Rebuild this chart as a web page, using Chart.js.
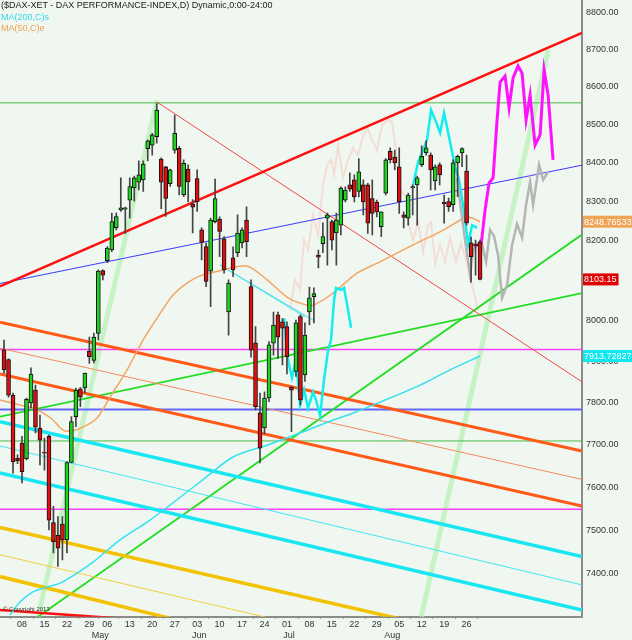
<!DOCTYPE html>
<html lang="de">
<head>
<meta charset="utf-8">
<title>DAX Performance-Index</title>
<style>
  * { margin: 0; padding: 0; box-sizing: border-box; }
  body {
    width: 632px;
    height: 640px;
    overflow: hidden;
    background: #f0f7f0;
    font-family: "Liberation Sans", Arial, sans-serif;
  }
  .wrap { position: relative; width: 632px; height: 640px; }
  #chart { position: absolute; left: 0; top: 0; }
  .head {
    position: absolute;
    left: 1px;
    font-size: 9px;
    line-height: 11.5px;
    white-space: nowrap;
  }
  .l1 { top: 0; color: #1a1a1a; }
  .l2 { top: 11.5px; color: #2fd8ec; }
  .l3 { top: 23px; color: #f0a050; }
  .copy { position: absolute; left: 3px; top: 606px; font-size: 6px; color: #333; }
</style>
</head>
<body>
<div class="wrap">
  <canvas id="chart" width="632" height="640"></canvas>
  <div class="head l1">($DAX-XET - DAX PERFORMANCE-INDEX,D) Dynamic,0:00-24:00</div>
  <div class="head l2">MA(200,C)s</div>
  <div class="head l3">MA(50,C)e</div>
  <div class="copy">© Copyright 2013</div>
</div>
<script src="https://cdn.jsdelivr.net/npm/chart.js@4.4.1/dist/chart.umd.min.js"></script>
<script>
// x axis = trading day slot, 0 = Apr 08 2013
const weekSlots = [0, 5, 10, 15, 19, 24, 29, 34, 39, 44, 49, 54, 59, 64, 69, 74, 79, 84, 89, 94, 99];
const weekLabels = ["08", "15", "22", "29", "06", "13", "20", "27", "03", "10", "17", "24", "01", "08", "15", "22", "29", "05", "12", "19", "26"];
const monthSlots = [17, 39, 59, 82];
const monthLabels = ["May", "Jun", "Jul", "Aug"];
const priceTicks = [7400, 7500, 7600, 7700, 7800, 7900, 8000, 8100, 8200, 8300, 8400, 8500, 8600, 8700, 8800];

// daily candles, first one at slot -4
const firstSlot = -4;
const opens = [7929, 7905, 7819, 7668, 7704, 7667, 7800, 7831, 7740, 7682,
  7720, 7517, 7488, 7514, 7477, 7658, 7767, 7834, 7836, 7926,
  7903, 7969, 8125, 8150, 8177, 8233, 8279, 8281, 8304, 8335,
  8350, 8356, 8437, 8446, 8468, 8410, 8390, 8346, 8433, 8438,
  8317, 8384, 8294, 8359, 8228, 8186, 8124, 8249, 8255, 8205,
  8022, 8157, 8170, 8195, 8253, 8085, 7946, 7776, 7740, 7812,
  7945, 8015, 7998, 7986, 7838, 7876, 8011, 7868, 8022, 8060,
  8164, 8193, 8258, 8249, 8220, 8240, 8304, 8343, 8356, 8326,
  8343, 8343, 8308, 8299, 8236, 8322, 8430, 8415, 8390, 8266,
  8258, 8335, 8343, 8395, 8426, 8420, 8353, 8395, 8299, 8300,
  8292, 8400, 8426, 8379, 8195, 8192, 8197];
const highs = [7953, 7907, 7824, 7676, 7720, 7812, 7885, 7843, 7771, 7716,
  7723, 7555, 7531, 7531, 7660, 7767, 7836, 7837, 7872, 7960,
  7970, 8127, 8127, 8186, 8271, 8271, 8361, 8286, 8361, 8366,
  8405, 8405, 8460, 8477, 8555, 8413, 8391, 8384, 8525, 8443,
  8408, 8395, 8305, 8382, 8233, 8195, 8258, 8358, 8261, 8211,
  8102, 8185, 8266, 8233, 8287, 8102, 7986, 7824, 7827, 7949,
  8022, 8022, 8006, 7998, 7840, 8002, 8015, 7995, 8084, 8082,
  8177, 8246, 8271, 8253, 8271, 8338, 8338, 8374, 8369, 8411,
  8356, 8347, 8356, 8304, 8274, 8411, 8439, 8433, 8439, 8274,
  8322, 8343, 8366, 8444, 8457, 8426, 8395, 8400, 8317, 8309,
  8408, 8420, 8439, 8420, 8210, 8202, 8202];
const lows = [7872, 7814, 7633, 7655, 7610, 7664, 7788, 7728, 7652, 7640,
  7500, 7447, 7416, 7431, 7447, 7657, 7743, 7791, 7824, 7896,
  7897, 7953, 8102, 8145, 8173, 8228, 8275, 8219, 8258, 8301,
  8330, 8326, 8405, 8420, 8451, 8282, 8262, 8339, 8425, 8317,
  8313, 8299, 8220, 8275, 8152, 8085, 8035, 8246, 8160, 8119,
  7965, 8110, 8160, 8182, 8160, 7911, 7783, 7657, 7726, 7803,
  7916, 7908, 7892, 7870, 7731, 7864, 7795, 7852, 7990, 7995,
  8132, 8170, 8139, 8177, 8139, 8215, 8299, 8326, 8299, 8312,
  8266, 8219, 8215, 8261, 8211, 8317, 8400, 8382, 8270, 8233,
  8240, 8266, 8240, 8390, 8420, 8330, 8330, 8343, 8245, 8275,
  8275, 8313, 8390, 8240, 8096, 8114, 8102];
const closes = [7880, 7819, 7660, 7662, 7636, 7809, 7870, 7742, 7711, 7680,
  7523, 7473, 7458, 7477, 7658, 7755, 7831, 7814, 7872, 7912,
  7960, 8124, 8114, 8182, 8249, 8262, 8284, 8284, 8339, 8361,
  8369, 8397, 8457, 8473, 8538, 8350, 8308, 8382, 8477, 8339,
  8399, 8351, 8286, 8300, 8196, 8098, 8253, 8308, 8224, 8127,
  8094, 8127, 8220, 8228, 8198, 7928, 7791, 7692, 7812, 7941,
  7990, 7960, 7982, 7912, 7831, 7995, 7807, 7965, 8057, 8068,
  8159, 8211, 8266, 8202, 8253, 8335, 8330, 8332, 8312, 8377,
  8299, 8245, 8270, 8274, 8274, 8408, 8408, 8400, 8299, 8260,
  8317, 8339, 8361, 8417, 8439, 8382, 8390, 8369, 8295, 8287,
  8400, 8417, 8437, 8246, 8160, 8187, 8103.15];

// moving averages
const ma200X = [-2.67, -0.45, 2.45, 5.57, 8.46, 12.25, 15.81, 21.83, 28.5, 39.64, 47, 54.57, 61.9, 69.27, 73.05, 79.73, 88.64, 95.32, 102];
const ma200Y = [7306, 7335, 7358, 7369, 7378, 7401, 7426, 7477, 7523, 7612, 7671, 7699, 7728, 7759, 7773, 7802, 7843, 7880, 7913.72827];
const ma50X = [-4.9, -0.45, 2.45, 4.68, 6.9, 9.13, 11.14, 13.59, 16.7, 19.6, 23.39, 26.95, 30.07, 33.63, 36.75, 39.64, 44.77, 50.11, 54.57, 59.02, 61.92, 64.81, 69.27, 74.61, 79.73, 87.08, 93.1, 96.88, 98.66, 100.22, 102];
const ma50Y = [7807, 7795, 7788, 7776, 7759, 7735, 7733, 7742, 7764, 7814, 7880, 7953, 8007, 8064, 8094, 8112, 8127, 8137, 8102, 8059, 8044, 8039, 8069, 8119, 8147, 8190, 8223, 8248, 8261, 8258, 8248.76533];

// pattern projections
const pinkX = [59.69, 60.8, 61.92, 62.81, 63.7, 64.81, 65.92, 67.04, 67.93, 68.82, 69.49, 70.38, 71.49, 72.61, 73.72, 74.83, 75.72, 76.84, 77.95, 79.06, 80.18, 81.51, 82.41, 83.52, 84.19, 85.3, 86.19, 87.08, 88.2, 89.31, 90.42, 91.09, 91.98, 93.1, 94.21, 95.32, 96.66, 97.77, 98.89, 100, 100.89, 101.56];
const pinkY = [8027, 8102, 8077, 8202, 8177, 8266, 8215, 8343, 8395, 8408, 8369, 8446, 8361, 8408, 8439, 8420, 8460, 8494, 8460, 8433, 8499, 8512, 8507, 8415, 8330, 8317, 8240, 8202, 8248, 8172, 8240, 8248, 8144, 8190, 8147, 8208, 8147, 8195, 8152, 8097, 8059, 8027];
const cyanLoX = [58.35, 59.24, 60.13, 61.02, 61.92, 62.81, 63.7, 64.81, 65.48, 66.37, 67.26, 68.15, 68.82, 69.49, 69.93, 71.05, 71.71, 72.61, 73.27];
const cyanLoY = [8007, 7904, 7861, 7904, 7795, 7831, 7788, 7826, 7807, 7769, 7856, 7928, 7953, 8052, 8082, 8077, 8082, 8027, 7983];
const cyanHiX = [87.08, 88.2, 89.31, 90.2, 91.09, 92.2, 93.1, 93.99, 95.1, 96.44, 97.33, 98.44, 99.33, 100.22, 101.34];
const cyanHiY = [8343, 8402, 8433, 8460, 8538, 8507, 8478, 8530, 8467, 8389, 8356, 8274, 8190, 8240, 8233];
const magentaX = [102.23, 103.12, 104.01, 104.9, 105.79, 106.46, 107.57, 108.46, 109.35, 110.47, 111.36, 112.25, 113.14, 114.25, 115.37, 116.26, 117.15, 118.26];
const magentaY = [8190, 8279, 8348, 8361, 8512, 8612, 8628, 8544, 8623, 8655, 8636, 8512, 8578, 8446, 8473, 8644, 8578, 8408];
const grayX = [96.88, 97.77, 98.66, 99.78, 100.45, 101.34, 102.23, 103.34, 104.23, 105.12, 106.01, 106.9, 108.02, 109.13, 110.24, 111.36, 112.25, 113.14, 113.81, 114.48, 115.14, 116.04, 117.15];
const grayY = [8361, 8279, 8202, 8114, 8177, 8190, 8202, 8147, 8228, 8212, 8164, 8057, 8089, 8190, 8243, 8208, 8292, 8351, 8292, 8343, 8395, 8356, 8377];

// drawn trend lines, [slot, price] end points
const xMin = -4.9, xMax = 124.7;
const redTop = [[xMin, 8086], [xMax, 8744]];
const redDown = [[30.07, 8559], [xMax, 7851]];
const redLow = [[xMin, 7317], [40, 7285]];
const blueUp = [[xMin, 8093], [xMax, 8394]];
const orangeA = [[xMin, 7997], [xMax, 7685]];
const orangeThin = [[xMin, 7933], [xMax, 7618]];
const orangeB = [[xMin, 7870], [xMax, 7556]];
const cyanA = [[xMin, 7755], [xMax, 7439]];
const cyanThin = [[xMin, 7697], [xMax, 7374]];
const cyanB = [[xMin, 7633], [xMax, 7317]];
const goldA = [[xMin, 7506], [xMax, 7204]];
const goldThin = [[xMin, 7443], [xMax, 7135]];
const goldB = [[xMin, 7393], [xMax, 7074]];
const greenShallow = [[xMin, 7767], [xMax, 8069]];
const greenSteep = [[xMin, 7242], [xMax, 8216]];
const paleA = [[3.56, 7302], [30.07, 8564]];
const paleB = [[88.9, 7302], [117.2, 8698]];
const fanA = [[44.1, 8139], [64.8, 8002]];
const fanB = [[44.1, 8139], [63.0, 8010]];
const athLevel = 8557;
const magentaLevels = [7930, 7548];
const blueLevel = 7784;
const greenLevel = 7709;

const xy = (xs, ys) => xs.map((x, i) => ({ x: x, y: ys[i] }));
const seg = (p) => p.map(([x, y]) => ({ x: x, y: y }));
const flat = (v) => [{ x: xMin, y: v }, { x: xMax, y: v }];

function line(data, color, width, order, tension) {
  return {
    type: "line",
    data: data,
    borderColor: color,
    borderWidth: width,
    pointRadius: 0,
    tension: tension || 0,
    order: order,
    clip: 0
  };
}

const slots = opens.map((_, i) => firstSlot + i);
const candleColors = opens.map((o, i) => (closes[i] >= o ? "#1ed41e" : "#e01010"));

const datasets = [
  {
    type: "bar",
    data: slots.map((x, i) => ({ x: x, y: [opens[i], closes[i]] })),
    backgroundColor: candleColors,
    borderColor: "#111",
    borderWidth: 1,
    borderSkipped: false,
    barThickness: 4,
    minBarLength: 1,
    grouped: false,
    order: 0
  },
  {
    type: "bar",
    data: slots.map((x, i) => ({ x: x, y: [lows[i], highs[i]] })),
    backgroundColor: "#444",
    borderWidth: 0,
    barThickness: 1,
    grouped: false,
    order: 1
  },
  line(xy(magentaX, magentaY), "#ff10ff", 3, 2),
  line(xy(grayX, grayY), "#b5b5b5", 2.5, 2),
  line(xy(cyanHiX, cyanHiY), "#10eef0", 2.5, 2),
  line(xy(cyanLoX, cyanLoY), "#10eef0", 2.5, 2),
  line(xy(ma50X, ma50Y), "#f3a560", 1.5, 3, 0.3),
  line(xy(ma200X, ma200Y), "#30e2f2", 1.5, 3, 0.3),
  line(seg(redTop), "#ff1010", 2.5, 4),
  line(seg(redDown), "#f04848", 1, 4),
  line(seg(redLow), "#ff1010", 2.5, 4),
  line(seg(blueUp), "#3a3aff", 1, 4),
  line(seg(orangeA), "#ff5a18", 3, 4),
  line(seg(orangeThin), "#f58a60", 1, 4),
  line(seg(orangeB), "#ff5a18", 3, 4),
  line(seg(cyanA), "#18e6f2", 3.5, 4),
  line(seg(cyanThin), "#40e6f2", 1, 4),
  line(seg(cyanB), "#18e6f2", 3.5, 4),
  line(seg(goldA), "#f2c200", 3.5, 4),
  line(seg(goldThin), "#f2d040", 1, 4),
  line(seg(goldB), "#f2c200", 3.5, 4),
  line(seg(greenShallow), "#22dd22", 1.8, 4),
  line(seg(greenSteep), "#22dd22", 1.8, 4),
  line(seg(fanA), "#40e0f0", 1, 4),
  line(seg(fanB), "#40e0f0", 1, 4),
  line(flat(athLevel), "#48bb48", 1, 4),
  line(flat(magentaLevels[0]), "#ff40ff", 1.5, 4),
  line(flat(magentaLevels[1]), "#ff40ff", 1.5, 4),
  line(flat(blueLevel), "#6464ff", 2, 4),
  line(flat(greenLevel), "#48bb48", 1, 4),
  line(xy(pinkX, pinkY), "#f3ddd5", 2, 5),
  line(seg(paleA), "#c6f2c6", 5, 6),
  line(seg(paleB), "#c6f2c6", 5, 6)
];

const tags = [
  { value: ma50Y[ma50Y.length - 1], text: ma50Y[ma50Y.length - 1].toFixed(5), color: "#f0a458" },
  { value: closes[closes.length - 1], text: closes[closes.length - 1].toFixed(2), color: "#e00000" },
  { value: ma200Y[ma200Y.length - 1], text: ma200Y[ma200Y.length - 1].toFixed(5), color: "#10e8f0" }
];

const tagFont = '9px "Liberation Sans", Arial, sans-serif';
const priceTags = {
  id: "priceTags",
  afterDraw(chart) {
    const { ctx, chartArea, scales } = chart;
    ctx.save();
    ctx.font = tagFont;
    ctx.textBaseline = "middle";
    tags.forEach((t) => {
      const py = scales.y.getPixelForValue(t.value);
      const w = ctx.measureText(t.text).width + 3;
      ctx.fillStyle = t.color;
      ctx.fillRect(chartArea.right + 1, py - 6, w, 12);
      ctx.fillStyle = "#fff";
      ctx.fillText(t.text, chartArea.right + 2, py + 0.5);
    });
    ctx.restore();
  }
};

const axisFont = { family: '"Liberation Sans", Arial, sans-serif', size: 9 };
const noPad = (s) => { s.paddingTop = 0; s.paddingBottom = 0; s.paddingLeft = 0; s.paddingRight = 0; };

new Chart(document.getElementById("chart"), {
  data: { datasets: datasets },
  plugins: [priceTags],
  options: {
    responsive: false,
    devicePixelRatio: 1,
    animation: false,
    events: [],
    layout: { padding: 0 },
    plugins: { legend: { display: false }, tooltip: { enabled: false } },
    scales: {
      x: {
        type: "linear",
        position: "bottom",
        min: xMin,
        max: xMax,
        offset: false,
        afterBuildTicks: (s) => { s.ticks = weekSlots.map((v) => ({ value: v })); },
        afterFit: (s) => { s.height = 12; noPad(s); },
        grid: { display: true, drawOnChartArea: false, color: "rgba(0,0,0,0)", tickColor: "#777", tickLength: 2 },
        border: { display: true, color: "#8c8c8c", width: 2 },
        ticks: {
          autoSkip: false,
          maxRotation: 0,
          padding: 0,
          color: "#333",
          font: axisFont,
          callback: (v) => weekLabels[weekSlots.indexOf(v)]
        }
      },
      xm: {
        type: "linear",
        position: "bottom",
        min: xMin,
        max: xMax,
        afterBuildTicks: (s) => { s.ticks = monthSlots.map((v) => ({ value: v })); },
        afterFit: (s) => { s.height = 11.3; noPad(s); },
        grid: { display: false, drawTicks: false },
        border: { display: false },
        ticks: {
          autoSkip: false,
          maxRotation: 0,
          padding: 1,
          labelOffset: 2,
          color: "#333",
          font: axisFont,
          callback: (v) => monthLabels[monthSlots.indexOf(v)]
        }
      },
      y: {
        type: "logarithmic",
        position: "right",
        min: 7302,
        max: 8833,
        afterBuildTicks: (s) => { s.ticks = priceTicks.map((v) => ({ value: v })); },
        afterFit: (s) => { s.width = 50; noPad(s); },
        grid: { display: false, drawTicks: false },
        border: { display: true, color: "#8c8c8c", width: 2 },
        ticks: {
          autoSkip: false,
          padding: 4,
          color: "#333",
          font: axisFont,
          callback: (v) => Number(v).toFixed(2)
        }
      }
    }
  }
});
</script>
</body>
</html>
